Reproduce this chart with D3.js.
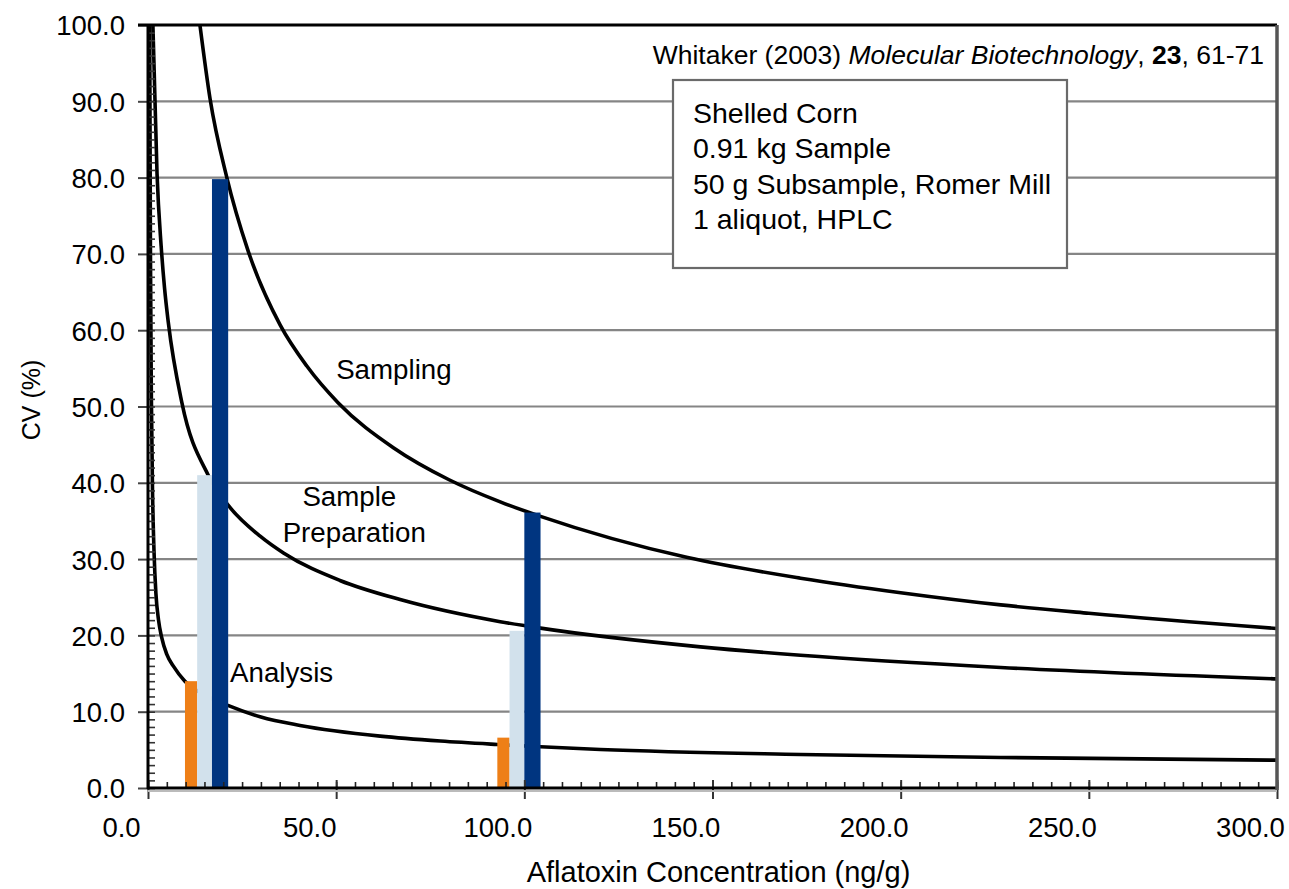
<!DOCTYPE html>
<html><head><meta charset="utf-8">
<script src="https://cdn.jsdelivr.net/npm/d3@7"></script>
<style>
body{margin:0;background:#fff}
svg{display:block}
text{font-family:"Liberation Sans",Arial,Helvetica,sans-serif;fill:#000}
</style>
</head><body>
<svg id="chart" width="1289" height="889"></svg>
<script>
// ---- data ----
const xTickValues = [0, 50, 100, 150, 200, 250, 300];
const yTickValues = [0, 10, 20, 30, 40, 50, 60, 70, 80, 90, 100];

const samplingConc = [13.8, 16.5, 20.9, 26.6, 35.1, 42.2, 50.5, 65.2, 80, 93.6, 104.3, 143.4, 173.4, 200, 226.6, 250, 300];
const samplingCV   = [100, 90.3, 80.1, 70.4, 60.7, 55.3, 50.5, 44.6, 40.4, 37.5, 35.6, 30.2, 27.5, 25.6, 24.0, 22.9, 20.9];

const preparationConc = [1.3, 2.4, 3.5, 4.4, 5.4, 9.0, 16.0, 21.4, 29.8, 36, 51, 67, 93.6, 104.3, 146.8, 173.4, 226.6, 300];
const preparationCV   = [100, 80.5, 71, 65.5, 61, 50.5, 41, 37.0, 33.0, 30.8, 27.2, 24.7, 21.8, 20.95, 18.5, 17.4, 15.8, 14.3];

const analysisConc = [0.45, 0.65, 0.9, 1.2, 1.6, 2.1, 2.8, 3.6, 5.0, 6.7, 9.8, 15, 21.4, 30, 40.4, 61.7, 77.7, 92.8, 104.3, 120.2, 173.4, 226.6, 300];
const analysisCV   = [100, 70, 51, 39, 31, 25.5, 22, 19.8, 17.5, 16.0, 14.0, 12.2, 10.8, 9.3, 8.2, 6.8, 6.15, 5.7, 5.4, 5.05, 4.4, 4.0, 3.65];

const barConcentrations = [17, 100];
const analysisBars    = [14.0, 6.6];
const preparationBars = [41.0, 20.6];
const samplingBars    = [79.8, 36.1];

const curveNames = ["Sampling", "Sample", "Preparation", "Analysis"];
const xAxisTitle = "Aflatoxin Concentration (ng/g)";
const yAxisTitle = "CV (%)";
const infoLines = ["Shelled Corn", "0.91 kg Sample", "50 g Subsample, Romer Mill", "1 aliquot, HPLC"];
const citationParts = [
  {t: "Whitaker (2003) ", s: "normal", w: "normal"},
  {t: "Molecular Biotechnology", s: "italic", w: "normal"},
  {t: ", ", s: "normal", w: "normal"},
  {t: "23", s: "normal", w: "bold"},
  {t: ", 61-71", s: "normal", w: "normal"}
];

// ---- layout ----
const svg = d3.select("#chart");
const pL = 148, pR = 1277, pT = 25, pB = 788;
const x = d3.scaleLinear().domain([0, 300]).range([pL, pR]);
const y = d3.scaleLinear().domain([0, 100]).range([pB, pT]);

svg.append("rect").attr("width", 1289).attr("height", 889).attr("fill", "#fff");

// grid lines
svg.append("g").selectAll("line").data(yTickValues.filter(v => v > 0 && v < 100)).join("line")
  .attr("x1", pL).attr("x2", pR).attr("y1", d => y(d)).attr("y2", d => y(d))
  .attr("stroke", "#858585").attr("stroke-width", 2.2);

// clip
svg.append("clipPath").attr("id", "plotclip").append("rect")
  .attr("x", pL).attr("y", pT).attr("width", pR - pL).attr("height", pB - pT);

const line = d3.line().x(d => x(d[0])).y(d => y(d[1])).curve(d3.curveMonotoneX);
const curves = [
  d3.zip(samplingConc, samplingCV),
  d3.zip(preparationConc, preparationCV),
  d3.zip(analysisConc, analysisCV)
];
svg.append("g").attr("clip-path", "url(#plotclip)").selectAll("path").data(curves).join("path")
  .attr("d", line).attr("fill", "none").attr("stroke", "#000").attr("stroke-width", 3.6)
  .attr("stroke-linejoin", "round");

// bars
const barSpecs = [
  {vals: analysisBars, color: "#ee7f17", x0: -27, x1: -14.8},
  {vals: preparationBars, color: "#d2e1ec", x0: -14.8, x1: 0},
  {vals: samplingBars, color: "#003580", x0: 0, x1: 16.2}
];
const barG = svg.append("g");
barSpecs.forEach(spec => {
  barG.selectAll(null).data(barConcentrations).join("rect")
    .attr("x", d => x(d) + spec.x0)
    .attr("width", spec.x1 - spec.x0)
    .attr("y", (d, i) => y(spec.vals[i]))
    .attr("height", (d, i) => y(0) - y(spec.vals[i]))
    .attr("fill", spec.color);
});

// axes
const fmt = d3.format(".1f");
const xMinor = svg.append("g").attr("transform", `translate(0,${pB})`)
  .call(d3.axisBottom(x).tickValues(d3.range(0, 301, 5)).tickSize(-6).tickFormat(""));
xMinor.select(".domain").remove();
xMinor.selectAll("line").attr("stroke", "#222").attr("stroke-width", 1.6);
const xMajor = svg.append("g").attr("transform", `translate(0,${pB})`)
  .call(d3.axisBottom(x).tickValues(xTickValues).tickSize(11).tickFormat(fmt));
xMajor.select(".domain").remove();
xMajor.selectAll("line").attr("stroke", "#333").attr("stroke-width", 2).attr("y1", -8);
xMajor.selectAll("text").attr("font-size", 27.5).attr("dx", -27).attr("dy", 0).attr("y", 49)
  .style("font-family", '"Liberation Sans",Arial,sans-serif');

const yMinor = svg.append("g").attr("transform", `translate(${pL},0)`)
  .call(d3.axisLeft(y).tickValues(d3.range(0, 101, 1)).tickSize(-7).tickFormat(""));
yMinor.select(".domain").remove();
yMinor.selectAll("line").attr("stroke", "#333").attr("stroke-width", 1.6);
const yMajor = svg.append("g").attr("transform", `translate(${pL},0)`)
  .call(d3.axisLeft(y).tickValues(yTickValues).tickSize(10).tickFormat(fmt));
yMajor.select(".domain").remove();
yMajor.selectAll("line").attr("stroke", "#444").attr("stroke-width", 2);
yMajor.selectAll("text").attr("font-size", 27.5).attr("dy", "0.36em").attr("x", -23)
  .style("font-family", '"Liberation Sans",Arial,sans-serif');

// frame
svg.append("line").attr("x1", pL).attr("x2", pR).attr("y1", pB + 3).attr("y2", pB + 3)
  .attr("stroke", "#bbb").attr("stroke-width", 2);
svg.append("line").attr("x1", pL - 1).attr("x2", pR).attr("y1", pB).attr("y2", pB)
  .attr("stroke", "#000").attr("stroke-width", 3);
svg.append("line").attr("x1", pL).attr("x2", pL).attr("y1", pT - 1).attr("y2", pB + 1)
  .attr("stroke", "#000").attr("stroke-width", 3);
svg.append("line").attr("x1", pL - 10).attr("x2", pR).attr("y1", pT).attr("y2", pT)
  .attr("stroke", "#000").attr("stroke-width", 3);
svg.append("line").attr("x1", pR).attr("x2", pR).attr("y1", pT).attr("y2", pB + 2)
  .attr("stroke", "#555").attr("stroke-width", 3.5);

// curve labels
const lab = svg.append("g").attr("font-size", 27.7);
lab.append("text").attr("x", x(50)).attr("y", y(53.6)).text(curveNames[0]);
lab.append("text").attr("x", x(53.5)).attr("y", y(36.9)).attr("text-anchor", "middle").text(curveNames[1]);
lab.append("text").attr("x", x(54.8)).attr("y", y(32.2)).attr("text-anchor", "middle").text(curveNames[2]);
lab.append("text").attr("x", x(21.8)).attr("y", y(13.9)).text(curveNames[3]);

// axis titles
svg.append("text").attr("x", x(150) + 6).attr("y", 882).attr("text-anchor", "middle")
  .attr("font-size", 29).text(xAxisTitle);
svg.append("text").attr("transform", "translate(40,400) rotate(-90)").attr("text-anchor", "middle")
  .attr("font-size", 25).text(yAxisTitle);

// citation
const cit = svg.append("text").attr("x", 1264).attr("y", 64).attr("text-anchor", "end").attr("font-size", 26.5);
citationParts.forEach(p => cit.append("tspan").attr("font-style", p.s).attr("font-weight", p.w).text(p.t));

// info box
svg.append("rect").attr("x", 673).attr("y", 80).attr("width", 394).attr("height", 188)
  .attr("fill", "#fff").attr("stroke", "#6a6a6a").attr("stroke-width", 2.2);
svg.append("g").selectAll("text").data(infoLines).join("text")
  .attr("x", 693).attr("y", (d, i) => 123 + i * 35.3).attr("font-size", 28.5).text(d => d);
</script>
</body></html>
